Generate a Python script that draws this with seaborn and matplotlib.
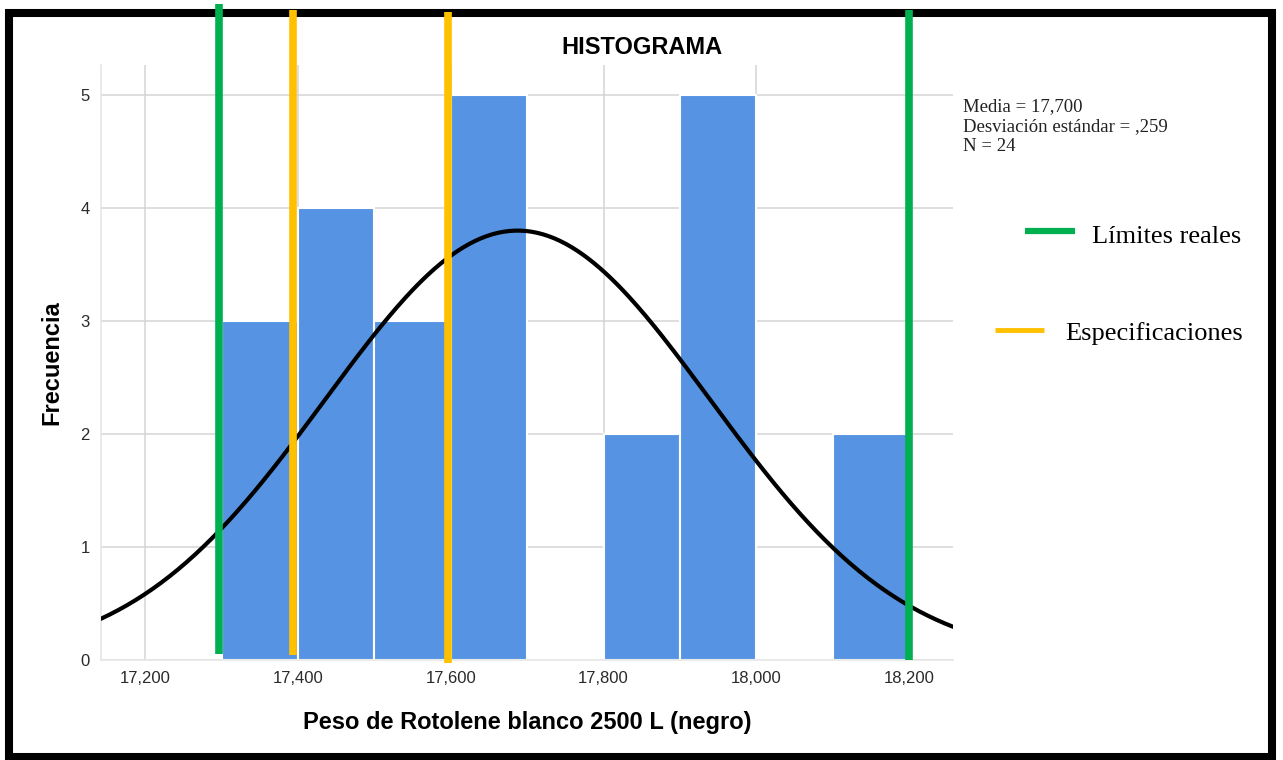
import numpy as np
import pandas as pd
import matplotlib
matplotlib.use("Agg")
import matplotlib.pyplot as plt
from matplotlib.lines import Line2D
from matplotlib.ticker import FuncFormatter
import seaborn as sns

# Histogram data
bin_edges = [17.3, 17.4, 17.5, 17.6, 17.7, 17.8, 17.9, 18.0, 18.1, 18.2]
frecuencias = [3, 4, 3, 5, 0, 2, 5, 0, 2]
x_ticks = [17.2, 17.4, 17.6, 17.8, 18.0, 18.2]
y_ticks = [0, 1, 2, 3, 4, 5]

# Normal curve drawn over the histogram
curva_media = 17.6875
curva_desv = 0.252
n_total = 24

# Vertical reference lines
limites_reales = [17.297, 18.2]
especificaciones = [17.394, 17.597]

stats_text = "Media = 17,700\nDesviación estándar = ,259\nN = 24"

bar_color = "#5694E3"
green = "#00B050"
orange = "#FFC000"

sns.set_theme(style="white")
plt.rcParams['font.family'] = ['Liberation Sans', 'DejaVu Sans']

fig = plt.figure(figsize=(12.83, 7.6), dpi=100)
ax = fig.add_axes([0.0787, 0.1316, 0.6641, 0.7829])

df = pd.DataFrame({
    "peso": [(a + b) / 2 for a, b in zip(bin_edges[:-1], bin_edges[1:])],
    "n": frecuencias,
})
sns.histplot(data=df, x="peso", weights="n", bins=bin_edges, ax=ax,
             color=bar_color, alpha=1, edgecolor="white", linewidth=1.5, zorder=2)

# normal curve scaled to counts
xs = np.linspace(17.142, 18.258, 300)
width = bin_edges[1] - bin_edges[0]
ys = n_total * width / (curva_desv * np.sqrt(2 * np.pi)) * np.exp(-0.5 * ((xs - curva_media) / curva_desv) ** 2)
sns.lineplot(x=xs, y=ys, ax=ax, color="black", linewidth=3, zorder=4)

ax.set_xlim(17.142, 18.2576)
ax.set_ylim(0, 5.265)
ax.set_xticks(x_ticks)
ax.set_yticks(y_ticks)
ax.xaxis.set_major_formatter(FuncFormatter(lambda v, p: f"{v:,.3f}".replace(".", ",")))
ax.grid(True, color="#d4d4d4", linewidth=1.1, zorder=0)
ax.set_axisbelow(True)
for s in ["top", "right"]:
    ax.spines[s].set_visible(False)
for s in ["left", "bottom"]:
    ax.spines[s].set_color("#e6e6e6")
    ax.spines[s].set_linewidth(1.2)
ax.tick_params(axis="both", length=0, labelsize=12, colors="#2a2a2a", pad=8)

ax.set_xlabel("Peso de Rotolene blanco 2500 L (negro)", fontsize=17, fontweight="bold",
              labelpad=18, color="black")
ax.set_ylabel("Frecuencia", fontsize=17, fontweight="bold", labelpad=12, color="black")
fig.text(0.5, 0.937, "HISTOGRAMA", ha="center", va="center", fontsize=17,
         fontweight="bold", color="black")

# vertical limit lines, extending past the axes like the pasted shapes
line_kw = dict(lw=5.5, clip_on=False, solid_capstyle="butt")
ax.plot([limites_reales[0]] * 2, [0.053, 5.805], color=green, zorder=6, **line_kw)
ax.plot([limites_reales[1]] * 2, [0.0, 5.752], color=green, zorder=6, **line_kw)
ax.plot([especificaciones[0]] * 2, [0.044, 5.752], color=orange, zorder=5, **line_kw)
ax.plot([especificaciones[1]] * 2, [-0.027, 5.735], color=orange, zorder=5, **line_kw)

# stats box
fig.text(963 / 1283, 1 - 98 / 760, stats_text, ha="left", va="top", fontsize=13.5,
         family="Liberation Serif", color="#222222", linespacing=1.22)

# manual legend
fig.add_artist(Line2D([1025 / 1283, 1075 / 1283], [1 - 231 / 760] * 2, color=green, lw=4.5,
                      solid_capstyle="butt"))
fig.text(1092 / 1283, 1 - 237 / 760, "Límites reales", ha="left", va="center",
         fontsize=19, family="Liberation Serif", color="black")
fig.add_artist(Line2D([995 / 1283, 1044 / 1283], [1 - 330 / 760] * 2, color=orange, lw=3.5,
                      solid_capstyle="butt"))
fig.text(1065 / 1283, 1 - 334 / 760, "Especificaciones", ha="left", va="center",
         fontsize=19, family="Liberation Serif", color="black")

# black frame around the figure
fig.add_artist(plt.Rectangle((9 / 1283, 3.5 / 760), 1262.5 / 1283, 743.5 / 760, transform=fig.transFigure,
                             fill=False, ec="black", lw=5.8, zorder=0))

fig.savefig("out.png", dpi=100)
